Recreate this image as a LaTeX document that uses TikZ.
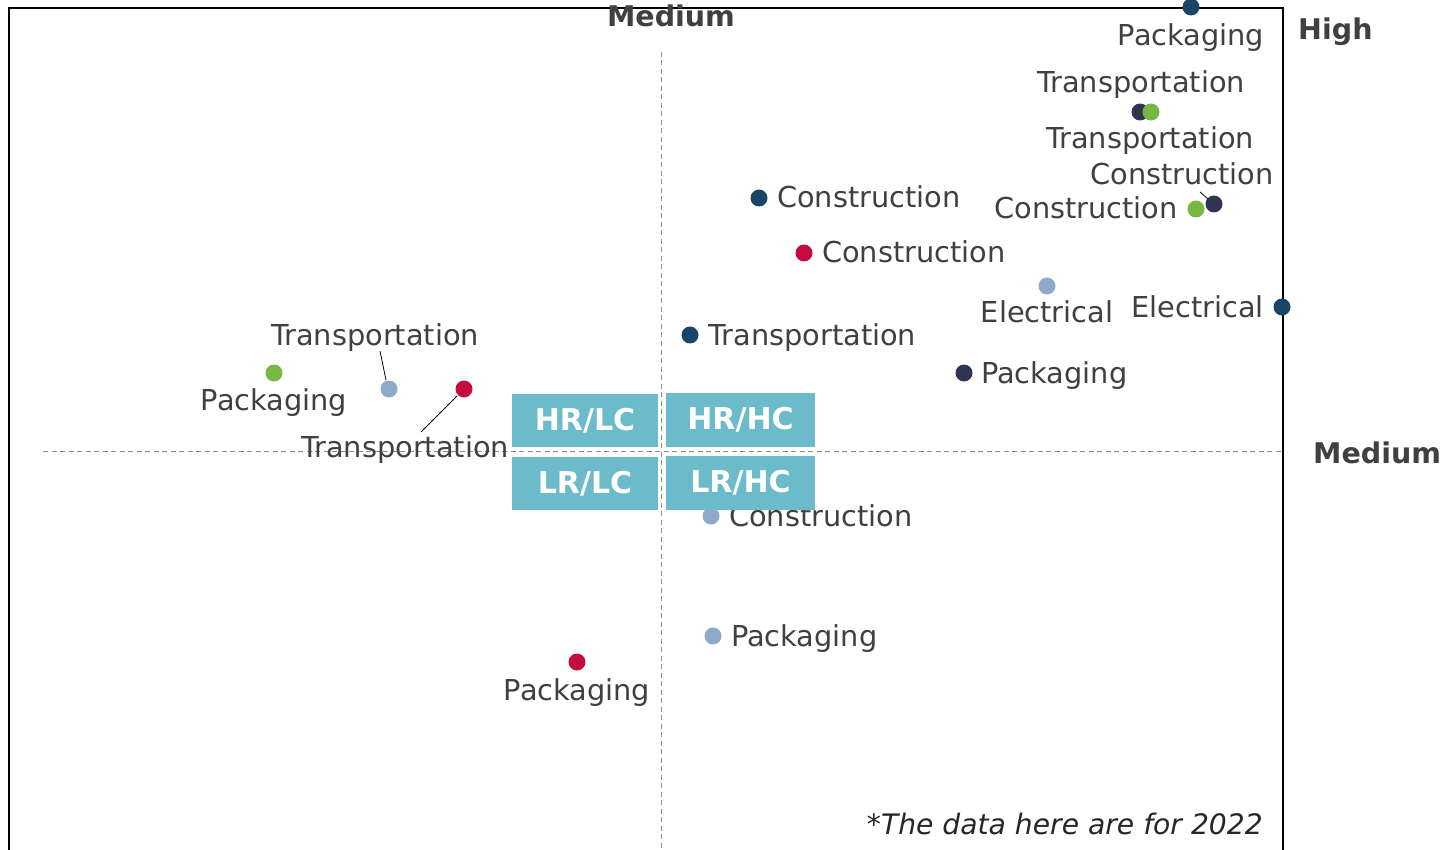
\documentclass[tikz,border=0pt]{standalone}
\usepackage{fontspec}
\setmainfont{DejaVu Sans}
\definecolor{navy}{HTML}{1B4566}
\definecolor{grn}{HTML}{76B843}
\definecolor{slate}{HTML}{2D3550}
\definecolor{crim}{HTML}{C60C3E}
\definecolor{lblue}{HTML}{8EAAC8}
\definecolor{boxc}{HTML}{6CBBCB}
\definecolor{tgray}{HTML}{404040}
\tikzset{
  dot/.style={circle, fill=#1, inner sep=0pt, minimum size=17pt},
  lab/.style={inner sep=0pt, text=tgray, font=\fontsize{28.8}{34}\selectfont},
  axlab/.style={inner sep=0pt, text=tgray, font=\fontsize{28.5}{34}\selectfont\bfseries},
  quad/.style={fill=boxc, text=white, inner sep=0pt, minimum width=146pt, minimum height=53pt, font=\fontsize{30}{36}\selectfont\bfseries},
  guide/.style={draw=gray!90, line width=1pt, dash pattern=on 5pt off 3.5pt},
  leader/.style={draw=black, line width=0.8pt},
  frame/.style={draw=black, line width=1.6pt}
}
\begin{document}
\begin{tikzpicture}[x=1pt,y=-1pt]
\useasboundingbox (0,0) rectangle (1443,850);
\fill[white] (0,0) rectangle (1443,850);
% frame
\coordinate (fbl) at (9,851);
\coordinate (ftl) at (9,8);
\coordinate (ftr) at (1283,8);
\coordinate (fbr) at (1283,851);
\draw[frame] (fbl) -- (ftl) -- (ftr) -- (fbr);
% guides
\coordinate (vt) at (661,52);
\coordinate (vb) at (661,850);
\coordinate (hl) at (43,451);
\coordinate (hr) at (1283,451);
\draw[guide] (vt) -- (vb);
\draw[guide] (hl) -- (hr);
% axis labels
\node[axlab, anchor=base] (mtop) at (671,27) {Medium};
\node[axlab, anchor=base west] (high) at (1298,40) {High};
\node[axlab, anchor=base west] (mright) at (1313,463) {Medium};
% dots
\node[dot=navy] (nPack) at (1191,7) {};
\node[dot=navy] (nCons) at (759,198) {};
\node[dot=navy] (nElec) at (1282,307) {};
\node[dot=navy] (nTran) at (690,335) {};
\node[dot=slate] (sTran) at (1140,112) {};
\node[dot=grn] (gTran) at (1151,112) {};
\node[dot=slate] (sCons) at (1214,204) {};
\node[dot=grn] (gCons) at (1196,209) {};
\node[dot=grn] (gPack) at (274,373) {};
\node[dot=slate] (sPack) at (964,373) {};
\node[dot=crim] (cCons) at (804,253) {};
\node[dot=crim] (cTran) at (464,389) {};
\node[dot=crim] (cPack) at (577,662) {};
\node[dot=lblue] (lElec) at (1047,286) {};
\node[dot=lblue] (lTran) at (389,389) {};
\node[dot=lblue] (lCons) at (711,516) {};
\node[dot=lblue] (lPack) at (713,636) {};
% labels
\node[lab, anchor=base] (tnPack) at (1191,46) {Packaging};
\node[lab, anchor=base west] (tnCons) at (777,208) {Construction};
\node[lab, anchor=base east] (tnElec) at (1264,317) {Electrical};
\node[lab, anchor=base west] (tnTran) at (708,345) {Transportation};
\node[lab, anchor=base] (tsTran) at (1141,93) {Transportation};
\node[lab, anchor=base] (tgTran) at (1150,149) {Transportation};
\node[lab, anchor=base east] (tsCons) at (1274,185) {Construction};
\node[lab, anchor=base east] (tgCons) at (1178,219) {Construction};
\node[lab, anchor=base] (tgPack) at (274,410) {Packaging};
\node[lab, anchor=base west] (tsPack) at (981,383) {Packaging};
\node[lab, anchor=base west] (tcCons) at (822,263) {Construction};
\node[lab, anchor=base] (tcTran) at (405,457) {Transportation};
\node[lab, anchor=base] (tcPack) at (577,700) {Packaging};
\node[lab, anchor=base] (tlElec) at (1047,323) {Electrical};
\node[lab, anchor=base] (tlTran) at (375,345) {Transportation};
\node[lab, anchor=base west] (tlCons) at (729,526) {Construction};
\node[lab, anchor=base west] (tlPack) at (731,646) {Packaging};
% leaders
\coordinate (a1) at (386,380);
\coordinate (a2) at (380,351);
\draw[leader] (a1) -- (a2);
\coordinate (b1) at (457,396);
\coordinate (b2) at (421,432);
\draw[leader] (b1) -- (b2);
\coordinate (c1) at (1200,192);
\coordinate (c2) at (1208,199);
\draw[leader] (c1) -- (c2);
% quadrant boxes
\node[quad] (hrlc) at (585,420.5) {HR/LC};
\node[quad, minimum width=149pt, minimum height=54pt] (hrhc) at (740.5,420) {HR/HC};
\node[quad] (lrlc) at (585,483.5) {LR/LC};
\node[quad, minimum width=149pt, minimum height=54pt] (lrhc) at (740.5,483) {LR/HC};
% footnote
\node[inner sep=0pt, anchor=base east, text=black!85, font=\fontsize{28.2}{34}\selectfont\itshape] (foot) at (1263,834) {*The data here are for 2022};
\end{tikzpicture}
\end{document}
